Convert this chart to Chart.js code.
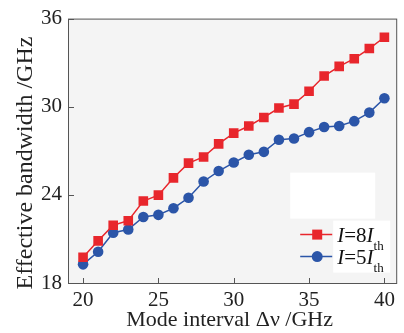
<!DOCTYPE html>
<html>
<head>
<meta charset="utf-8">
<script src="https://cdn.jsdelivr.net/npm/chart.js@4.4.1/dist/chart.umd.min.js"></script>
<style>
  html, body { margin: 0; padding: 0; background: #fff; }
  #wrap { width: 404px; height: 333px; }
</style>
</head>
<body>
<div id="wrap"><canvas id="bwChart" width="404" height="333"></canvas></div>
<script>
// mode interval (GHz)
const modeInterval = [20, 21, 22, 23, 24, 25, 26, 27, 28, 29, 30, 31, 32, 33, 34, 35, 36, 37, 38, 39, 40];
// effective bandwidth (GHz)
const bw8Ith = [19.75, 20.87, 21.93, 22.24, 23.58, 23.98, 25.16, 26.16, 26.58, 27.47, 28.2, 28.69, 29.27, 29.91, 30.18, 31.05, 32.09, 32.75, 33.27, 33.96, 34.73];
const bw5Ith = [19.27, 20.13, 21.42, 21.64, 22.49, 22.64, 23.09, 23.8, 24.91, 25.62, 26.2, 26.73, 26.93, 27.75, 27.84, 28.27, 28.62, 28.69, 29.02, 29.6, 30.58];
const xTicks = [20, 25, 30, 35, 40];
const yTicks = [18, 24, 30, 36];

const RED = '#e8262c';
const BLUE = '#2b55a8';
const SERIF = '"Liberation Serif", "Times New Roman", serif';

const toPts = ys => modeInterval.map((x, i) => ({ x: x, y: ys[i] }));

// background, frame, inward ticks, titles and legend
const decor = {
    id: 'decor',
    beforeDatasetsDraw(chart) {
        const { ctx, chartArea: a } = chart;
        ctx.save();
        ctx.fillStyle = '#f4f4f4';
        ctx.fillRect(a.left, a.top, a.right - a.left, a.bottom - a.top);
        // white patch above legend
        ctx.fillStyle = '#ffffff';
        ctx.fillRect(a.right - 107, a.top + 154, 85, 46);
        ctx.fillRect(a.right - 64, a.top + 202, 57, 52);
        ctx.restore();
    },
    afterDraw(chart) {
        const { ctx, chartArea: a, scales } = chart;
        ctx.save();
        ctx.strokeStyle = '#555';
        ctx.lineWidth = 1;
        ctx.strokeRect(a.left + 0.5, a.top + 0.5, a.right - a.left - 1, a.bottom - a.top);
        ctx.beginPath();
        xTicks.forEach(v => {
            const px = Math.round(scales.x.getPixelForValue(v)) + 0.5;
            ctx.moveTo(px, a.bottom); ctx.lineTo(px, a.bottom - 5);
        });
        yTicks.forEach(v => {
            const py = Math.round(scales.y.getPixelForValue(v)) + 0.5;
            ctx.moveTo(a.left, py); ctx.lineTo(a.left + 6, py);
        });
        ctx.stroke();

        // axis titles
        ctx.fillStyle = '#222';
        ctx.textAlign = 'center';
        ctx.textBaseline = 'middle';
        ctx.font = '22px ' + SERIF;
        ctx.fillText('Mode interval Δν /GHz', (a.left + a.right) / 2 - 3, 320);
        ctx.save();
        ctx.translate(26, 163);
        ctx.rotate(-Math.PI / 2);
        ctx.font = '24px ' + SERIF;
        ctx.fillText('Effective bandwidth /GHz', 0, 0);
        ctx.restore();

        // legend
        const items = [
            { color: RED, shape: 'rect', n: '8', y: a.top + 216 },
            { color: BLUE, shape: 'circle', n: '5', y: a.top + 238 }
        ];
        const x0 = a.right - 97;
        items.forEach(it => {
            ctx.strokeStyle = it.color;
            ctx.fillStyle = it.color;
            ctx.lineWidth = 1.5;
            ctx.beginPath();
            ctx.moveTo(x0, it.y); ctx.lineTo(x0 + 32, it.y);
            ctx.stroke();
            if (it.shape === 'rect') {
                ctx.fillRect(x0 + 12, it.y - 5, 10, 10);
            } else {
                ctx.beginPath();
                ctx.arc(x0 + 17, it.y, 5.5, 0, Math.PI * 2);
                ctx.fill();
            }
            ctx.fillStyle = '#111';
            ctx.textAlign = 'left';
            ctx.textBaseline = 'alphabetic';
            let tx = x0 + 37;
            const base = it.y + 7;
            const parts = [
                ['italic 21px ' + SERIF, 'I', 0],
                ['21px ' + SERIF, '=' + it.n, 0],
                ['italic 21px ' + SERIF, 'I', 0],
                ['13px ' + SERIF, 'th', 8]
            ];
            parts.forEach(p => {
                ctx.font = p[0];
                ctx.fillText(p[1], tx, base + p[2]);
                tx += ctx.measureText(p[1]).width;
            });
        });
        ctx.restore();
    }
};

new Chart(document.getElementById('bwChart').getContext('2d'), {
    type: 'line',
    data: {
        datasets: [
            { label: 'I=8Ith', data: toPts(bw8Ith), borderColor: RED, backgroundColor: RED, borderWidth: 1.5,
              pointStyle: 'rect', pointRadius: 6.8, pointBorderWidth: 0 },
            { label: 'I=5Ith', data: toPts(bw5Ith), borderColor: BLUE, backgroundColor: BLUE, borderWidth: 1.5,
              pointStyle: 'circle', pointRadius: 5.3, pointBorderWidth: 0 }
        ]
    },
    options: {
        responsive: false,
        devicePixelRatio: 1,
        animation: false,
        layout: { padding: { top: 13, right: 2, left: 0, bottom: 0 } },
        plugins: { legend: { display: false }, tooltip: { enabled: false } },
        scales: {
            x: {
                type: 'linear', min: 19, max: 40.85,
                grid: { display: false, drawTicks: false },
                border: { display: false },
                afterBuildTicks: s => { s.ticks = xTicks.map(v => ({ value: v })); },
                afterFit: s => { s.height = 50; },
                ticks: { color: '#222', padding: 5, font: { family: SERIF, size: 21 } }
            },
            y: {
                min: 18, max: 36,
                grid: { display: false, drawTicks: false },
                border: { display: false },
                afterBuildTicks: s => { s.ticks = yTicks.map(v => ({ value: v })); },
                afterFit: s => { s.width = 68; },
                ticks: { color: '#222', padding: 6, font: { family: SERIF, size: 21 } }
            }
        }
    },
    plugins: [decor]
});
</script>
</body>
</html>
